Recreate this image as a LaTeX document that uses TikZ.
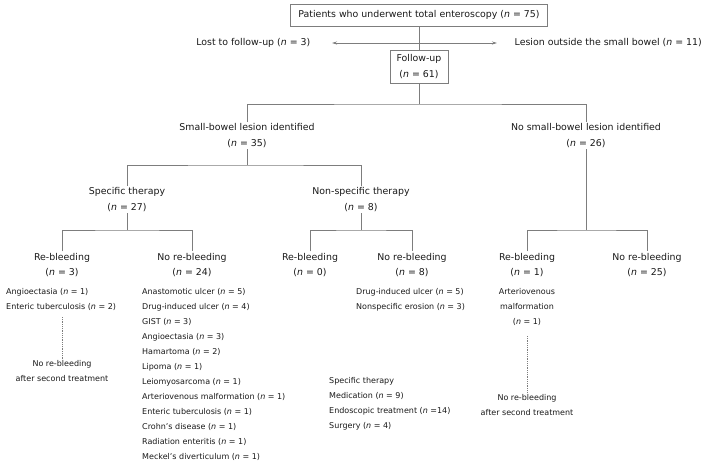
\documentclass[tikz,border=0pt]{standalone}
\usepackage{fontspec}
\setmainfont{DejaVu Sans}
\usepackage{xcolor}
\usetikzlibrary{arrows.meta}
\definecolor{flowgray}{RGB}{125,125,125}
\definecolor{flowtext}{RGB}{25,25,25}
\newcommand{\nn}[1]{(\textit{n} = #1)}

\begin{document}
\begin{tikzpicture}[x=1pt, y=-1pt,
    lbl/.style={flowtext, font=\fontsize{8}{15}\selectfont, inner sep=1.5pt, align=center},
    head/.style={lbl, font=\fontsize{9.4}{15.5}\selectfont},
    entry/.style={flowtext, font=\fontsize{8}{15}\selectfont, inner sep=0pt, anchor=west,
                  text height=6pt, text depth=2pt},
    flowbox/.style={head, draw=flowgray, line width=0.8pt},
    link/.style={flowgray, line width=0.8pt},
    dotlink/.style={flowgray, line width=0.8pt, densely dotted}]
    \useasboundingbox (0,0) rectangle (709,468);

    % Enrolment and follow-up
    \node[flowbox, minimum width=257pt, minimum height=22pt] (total) at (419,15) {Patients who underwent total enteroscopy \nn{75}};
    \node[head, anchor=east] (lost) at (312,43) {Lost to follow-up \nn{3}};
    \node[head, anchor=west] (outside) at (513,43) {Lesion outside the small bowel \nn{11}};
    \node[flowbox, minimum width=58pt, minimum height=33pt] (followup) at (419,66.5) {Follow-up\\\nn{61}};
    \draw[link, {Stealth[length=5pt,width=3pt]}-{Stealth[length=5pt,width=3pt]},
          shorten <=20pt, shorten >=16pt] (lost.east) -- (outside.west);
    \draw[link] (total.south) -- (followup.north);

    % Lesion found or not
    \node[head] (lesion) at (247,135.5) {Small-bowel lesion identified\\\nn{35}};
    \node[head] (nolesion) at (586,135.5) {No small-bowel lesion identified\\\nn{26}};
    \coordinate (jfollow) at (419,104);
    \draw[link] (followup.south) -- (jfollow);
    \draw[link] (lesion.north) |- (jfollow) -| (nolesion.north);

    % Therapy
    \node[head] (spec) at (127,199.5) {Specific therapy\\\nn{27}};
    \node[head] (nonspec) at (361,199.5) {Non-specific therapy\\\nn{8}};
    \coordinate (jlesion) at (247,165);
    \draw[link] (lesion.south) -- (jlesion);
    \draw[link] (spec.north) |- (jlesion) -| (nonspec.north);

    % Outcome
    \node[head] (rebleedA) at (62,265) {Re-bleeding\\\nn{3}};
    \node[head] (norebleedA) at (192,265) {No re-bleeding\\\nn{24}};
    \node[head] (rebleedB) at (310,265) {Re-bleeding\\\nn{0}};
    \node[head] (norebleedB) at (412,265) {No re-bleeding\\\nn{8}};
    \node[head] (rebleedC) at (527,265) {Re-bleeding\\\nn{1}};
    \node[head] (norebleedC) at (647,265) {No re-bleeding\\\nn{25}};
    \coordinate (jspec) at (127,230);
    \coordinate (jnonspec) at (361,230);
    \coordinate (jnolesion) at (586,230);
    \draw[link] (spec.south) -- (jspec);
    \draw[link] (rebleedA.north) |- (jspec) -| (norebleedA.north);
    \draw[link] (nonspec.south) -- (jnonspec);
    \draw[link] (rebleedB.north) |- (jnonspec) -| (norebleedB.north);
    \draw[link] (nolesion.south) -- (jnolesion);
    \draw[link] (rebleedC.north) |- (jnolesion) -| (norebleedC.north);

    % Diagnoses
    \foreach \dx [count=\i] in {Angioectasia \nn{1}, Enteric tuberculosis \nn{2}}
        \node[entry] (causeA\i) at (6,277+15*\i) {\dx};
    \foreach \dx [count=\i] in {Anastomotic ulcer \nn{5}, Drug-induced ulcer \nn{4}, GIST \nn{3},
            Angioectasia \nn{3}, Hamartoma \nn{2}, Lipoma \nn{1}, Leiomyosarcoma \nn{1},
            Arteriovenous malformation \nn{1}, Enteric tuberculosis \nn{1},
            Crohn’s disease \nn{1}, Radiation enteritis \nn{1}, Meckel’s diverticulum \nn{1}}
        \node[entry] (causeB\i) at (142,277+15*\i) {\dx};
    \foreach \dx [count=\i] in {Drug-induced ulcer \nn{5}, Nonspecific erosion \nn{3}}
        \node[entry] (causeC\i) at (356,277+15*\i) {\dx};
    \foreach \dx [count=\i] in {Specific therapy, Medication \nn{9},
            Endoscopic treatment (\textit{n} =14), Surgery \nn{4}}
        \node[entry] (treat\i) at (329,366+15*\i) {\dx};
    \node[lbl] (causeD) at (527,307) {Arteriovenous\\malformation\\\nn{1}};

    % Second treatment
    \node[lbl] (secondA) at (62,371.5) {No re-bleeding\\after second treatment};
    \node[lbl] (secondC) at (527,405) {No re-bleeding\\after second treatment};
    \coordinate (dotA) at (62,317);
    \coordinate (dotC) at (527,336);
    \draw[dotlink] (dotA) -- (secondA.north);
    \draw[dotlink] (dotC) -- (secondC.north);
\end{tikzpicture}
\end{document}
